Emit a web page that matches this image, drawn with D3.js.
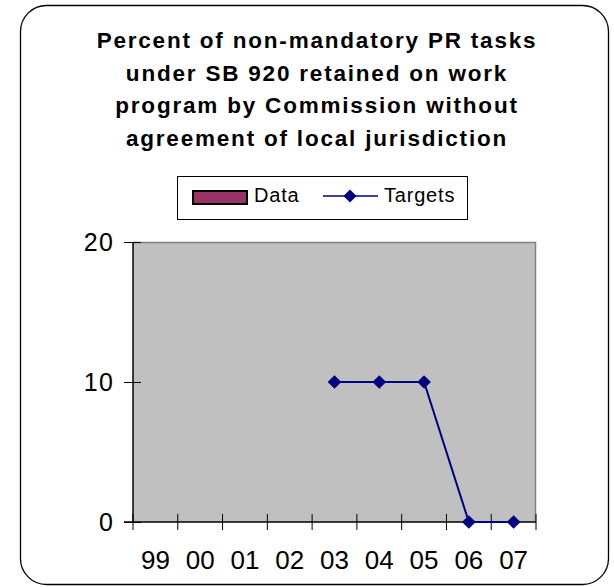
<!DOCTYPE html>
<html>
<head>
<meta charset="utf-8">
<script src="https://cdn.jsdelivr.net/npm/d3@7"></script>
<style>
    body { margin: 0; background: #fff; }
    svg text { font-family: "Liberation Sans", Arial, sans-serif; fill: #000; }
</style>
</head>
<body>
<div id="chart"></div>
<script>
(function() {
    var width = 614,
        height = 587;
    var plotBox = {left: 133, top: 242, right: 536, bottom: 522};

    // chart data
    var years = ["99", "00", "01", "02", "03", "04", "05", "06", "07"];
    var dataValues = [null, null, null, null, null, null, null, null, null];
    var targetValues = [null, null, null, null, 10, 10, 10, 0, 0];
    var yTicks = [0, 10, 20];
    var titleLines = [
        "Percent of non-mandatory PR tasks",
        "under SB 920 retained on work",
        "program by Commission without",
        "agreement of local jurisdiction"
    ];

    var svg = d3.select("#chart").append("svg")
        .attr("width", width)
        .attr("height", height);

    // outer rounded frame
    svg.append("rect")
        .attr("x", 20.5)
        .attr("y", 5.5)
        .attr("width", 588)
        .attr("height", 579)
        .attr("rx", 26)
        .attr("fill", "#fff")
        .attr("stroke", "#000")
        .attr("stroke-width", 1.3);

    // title
    svg.append("text")
        .attr("text-anchor", "middle")
        .style("font-size", "22.5px")
        .style("font-weight", "bold")
        .style("letter-spacing", "1.8px")
        .selectAll("tspan")
        .data(titleLines)
        .enter()
        .append("tspan")
        .attr("x", 317)
        .attr("y", function(d, i) { return 48 + i * 32.5; })
        .text(function(d) { return d; });

    // legend
    var legend = svg.append("g");
    legend.append("rect")
        .attr("x", 177.5).attr("y", 176.5)
        .attr("width", 290).attr("height", 43)
        .attr("fill", "#fff").attr("stroke", "#000");
    legend.append("rect")
        .attr("x", 193).attr("y", 191)
        .attr("width", 54).attr("height", 13)
        .attr("fill", "#993366").attr("stroke", "#000").attr("stroke-width", 2);
    legend.append("text")
        .attr("x", 254).attr("y", 202)
        .style("font-size", "20px")
        .style("letter-spacing", "0.8px")
        .text("Data");
    legend.append("line")
        .attr("x1", 323).attr("x2", 378)
        .attr("y1", 196).attr("y2", 196)
        .attr("stroke", "#000080").attr("stroke-width", 1.5);
    legend.append("path")
        .attr("d", d3.symbol().type(d3.symbolDiamond2).size(110))
        .attr("transform", "translate(350,196)")
        .attr("fill", "#000080");
    legend.append("text")
        .attr("x", 384).attr("y", 202)
        .style("font-size", "20px")
        .style("letter-spacing", "0.8px")
        .text("Targets");

    // scales
    var xScale = d3.scaleBand()
        .domain(years)
        .range([plotBox.left, plotBox.right]);

    var yScale = d3.scaleLinear()
        .domain([0, 20])
        .range([plotBox.bottom, plotBox.top]);

    // plot area
    svg.append("rect")
        .attr("x", plotBox.left)
        .attr("y", plotBox.top)
        .attr("width", plotBox.right - plotBox.left)
        .attr("height", plotBox.bottom - plotBox.top)
        .attr("fill", "#c0c0c0");
    svg.append("path")
        .attr("d", "M" + plotBox.left + "," + (plotBox.top + 0.5) + "H" + (plotBox.right - 0.5) + "V" + plotBox.bottom)
        .attr("fill", "none")
        .attr("stroke", "#808080")
        .attr("stroke-width", 1.5);

    // data bars (no values reported)
    svg.selectAll("rect.bar")
        .data(years.filter(function(d, i) { return dataValues[i] !== null; }))
        .enter()
        .append("rect")
        .attr("class", "bar")
        .attr("x", function(d) { return xScale(d) + xScale.bandwidth() * 0.2; })
        .attr("width", xScale.bandwidth() * 0.6)
        .attr("y", function(d) { return yScale(dataValues[years.indexOf(d)]); })
        .attr("height", function(d) { return plotBox.bottom - yScale(dataValues[years.indexOf(d)]); })
        .attr("fill", "#993366")
        .attr("stroke", "#000");

    // y axis
    var yAxis = d3.axisLeft(yScale)
        .tickValues(yTicks)
        .tickSize(9)
        .tickPadding(12)
        .tickFormat(d3.format("d"));

    var yG = svg.append("g")
        .attr("transform", "translate(" + plotBox.left + ",0)")
        .call(yAxis);
    yG.select(".domain").attr("stroke", "#000").attr("stroke-width", 1.5)
        .attr("d", "M0," + plotBox.top + "V" + plotBox.bottom);
    yG.selectAll(".tick line").attr("x2", -9).attr("x1", 8).attr("stroke", "#000");
    yG.selectAll(".tick text")
        .style("font-size", "25px")
        .style("letter-spacing", "1.5px")
        .attr("dy", "0.34em")
        .attr("x", -18.5);

    // x axis with ticks between categories
    var xAxis = d3.axisBottom(xScale)
        .tickSize(0)
        .tickPadding(47);

    var xG = svg.append("g")
        .attr("transform", "translate(0," + plotBox.bottom + ")")
        .call(xAxis);
    xG.select(".domain").attr("stroke", "#000").attr("stroke-width", 1.5)
        .attr("d", "M" + (plotBox.left - 9) + ",0H" + plotBox.right);
    xG.selectAll(".tick text")
        .style("font-size", "26px")
        .attr("dy", "0");

    var boundaries = years.map(function(d) { return xScale(d); }).concat([plotBox.right]);
    xG.selectAll("line.boundary")
        .data(boundaries)
        .enter()
        .append("line")
        .attr("class", "boundary")
        .attr("x1", function(d) { return d; })
        .attr("x2", function(d) { return d; })
        .attr("y1", -8)
        .attr("y2", 8)
        .attr("stroke", "#000");

    // targets line
    var targets = years.map(function(d, i) { return {year: d, value: targetValues[i]}; })
        .filter(function(d) { return d.value !== null; });

    var valueline = d3.line()
        .x(function(d) { return xScale(d.year) + xScale.bandwidth() / 2; })
        .y(function(d) { return yScale(d.value); });

    svg.append("path")
        .datum(targets)
        .attr("d", valueline)
        .attr("fill", "none")
        .attr("stroke", "#000080")
        .attr("stroke-width", 2);

    svg.selectAll("path.point")
        .data(targets)
        .enter()
        .append("path")
        .attr("class", "point")
        .attr("d", d3.symbol().type(d3.symbolDiamond2).size(120))
        .attr("transform", function(d) {
            return "translate(" + (xScale(d.year) + xScale.bandwidth() / 2) + "," + yScale(d.value) + ")";
        })
        .attr("fill", "#000080");
})();
</script>
</body>
</html>
